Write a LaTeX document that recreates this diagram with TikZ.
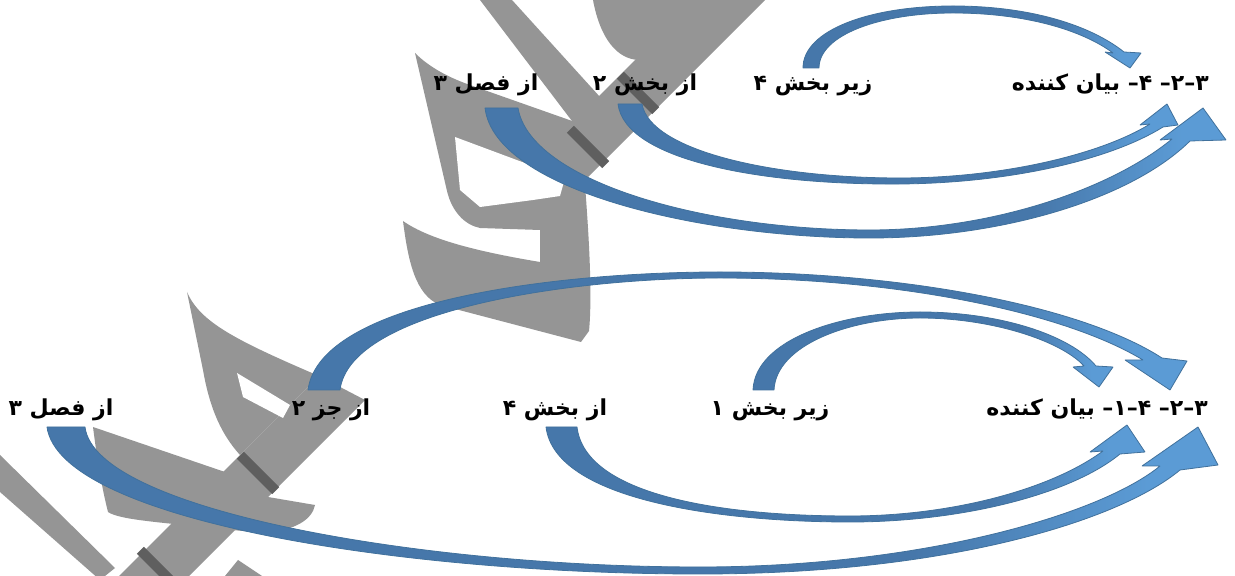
\documentclass[tikz,border=0pt]{standalone}
\usepackage{fontspec}
\usepackage{tikz}
\newfontfamily\fafont[Script=Arabic]{DejaVu Sans}
\TeXXeTstate=1
\definecolor{arrdark}{rgb}{0.275,0.467,0.667}
\definecolor{arrlight}{rgb}{0.357,0.608,0.835}
\definecolor{arredge}{rgb}{0.255,0.443,0.612}
\definecolor{wmgray}{rgb}{0.584,0.584,0.584}
\definecolor{wmdark}{rgb}{0.373,0.373,0.373}
\pgfdeclarehorizontalshading{arrowshade}{100bp}{color(0bp)=(arrdark); color(62bp)=(arrdark); color(72bp)=(arrlight); color(100bp)=(arrlight)}
\tikzset{
  lbl/.style={font=\fafont\bfseries\fontsize{22bp}{26bp}\selectfont, inner sep=0pt, anchor=base},
  curvedarrow/.style={draw=arredge, line width=0.8bp, shading=arrowshade},
}

\begin{document}
\begin{tikzpicture}[line join=bevel,]
\useasboundingbox (0bp,0bp) rectangle (1235bp,576bp);
%%
\begin{scope}
  \definecolor{fillcol}{rgb}{1.0,1.0,1.0};
  \fill [fillcol] (0.0bp,0.0bp) -- (0.0bp,576.0bp) -- (1235.0bp,576.0bp) -- (1235.0bp,0.0bp) -- cycle;
\end{scope}
%% watermark (y measured downwards here)
\begin{scope}[yshift=576bp,yscale=-1]
  % lower part of the long stroke
  \fill [wmgray] (95bp,600bp) -- (319bp,376bp) -- (365bp,400bp) -- (165bp,600bp) -- cycle;
  \fill [wmgray] (187bp,292bp) .. controls (200bp,322bp) and (235bp,340bp) .. (319bp,376bp) -- (240bp,455bp) .. controls (222bp,435bp) and (210bp,410bp) .. (203bp,370bp) -- cycle;
  \fill [white] (237bp,373bp) -- (290bp,405bp) -- (283bp,418bp) -- (243bp,397bp) -- cycle;
  \fill [wmgray] (93bp,427bp) -- (225bp,472bp) -- (268bp,497bp) -- (315bp,505bp) .. controls (312bp,520bp) and (295bp,530bp) .. (265bp,533bp) -- (210bp,528bp) .. controls (160bp,522bp) and (120bp,520bp) .. (108bp,512bp) .. controls (100bp,480bp) and (96bp,450bp) .. (93bp,427bp) -- cycle;
  \fill [wmgray] (0bp,455bp) -- (115bp,568bp) -- (100bp,580bp) -- (0bp,492bp) -- cycle;
  \fill [wmgray] (225bp,576bp) -- (238bp,560bp) -- (262bp,576bp) -- cycle;
  % upper part of the long stroke
  \fill [wmgray] (565bp,130bp) -- (695bp,0bp) -- (765bp,0bp) -- (585bp,180bp) -- cycle;
  \fill [wmgray] (593bp,0bp) .. controls (600bp,38bp) and (617bp,60bp) .. (640bp,60bp) -- (700bp,0bp) -- cycle;
  \fill [wmgray] (480bp,0bp) -- (512bp,0bp) -- (600bp,97bp) -- (575bp,125bp) -- cycle;
  % the bent letter under the top labels
  \fill [wmgray] (415bp,53bp) .. controls (430bp,68bp) and (450bp,78bp) .. (470bp,85bp) -- (575bp,122bp) -- (585bp,185bp)
    .. controls (590bp,250bp) and (592bp,300bp) .. (589bp,331bp) -- (581bp,342bp) -- (440bp,305bp)
    .. controls (415bp,295bp) and (408bp,260bp) .. (403bp,221bp) .. controls (430bp,240bp) and (480bp,252bp) .. (540bp,262bp)
    -- (540bp,230bp) -- (480bp,228bp) .. controls (465bp,225bp) and (452bp,212bp) .. (447bp,191bp) -- cycle;
  \fill [white] (455bp,137bp) -- (565bp,178bp) -- (560bp,196bp) -- (533bp,200bp) -- (480bp,207bp) -- (460bp,190bp) -- cycle;
  % darker bands across the stroke
  \fill [wmdark] (236.8bp,458.8bp) -- (272.2bp,494.2bp) -- (279.2bp,487.2bp) -- (243.8bp,451.8bp) -- cycle;
  \fill [wmdark] (136.8bp,553.8bp) -- (172.2bp,589.2bp) -- (179.2bp,582.2bp) -- (143.8bp,546.8bp) -- cycle;
  \fill [wmdark] (566.8bp,132.8bp) -- (602.2bp,168.2bp) -- (609.2bp,161.2bp) -- (573.8bp,125.8bp) -- cycle;
  \fill [wmdark] (616.8bp,78.8bp) -- (652.2bp,114.2bp) -- (659.2bp,107.2bp) -- (623.8bp,71.8bp) -- cycle;
\end{scope}
%% labels
  \node (t1) at (1209bp,485bp) [lbl,anchor=base east] {\beginR ۳–۲– ۴– بیان کننده\endR};
  \node (t2) at (813bp,485bp) [lbl] {\beginR زیر بخش ۴\endR};
  \node (t3) at (645bp,485bp) [lbl] {\beginR از بخش ۲\endR};
  \node (t4) at (486bp,485bp) [lbl] {\beginR از فصل ۳\endR};
  \node (b1) at (1208bp,160bp) [lbl,anchor=base east] {\beginR ۳–۲– ۴–۱– بیان کننده\endR};
  \node (b2) at (770bp,160bp) [lbl] {\beginR زیر بخش ۱\endR};
  \node (b3) at (555bp,160bp) [lbl] {\beginR از بخش ۴\endR};
  \node (b4) at (331bp,160bp) [lbl] {\beginR از جز ۲\endR};
  \node (b5) at (61bp,160bp) [lbl] {\beginR از فصل ۳\endR};
%% arrows, top row
  \path [curvedarrow] (803bp,508bp) .. controls (803bp,546bp) and (870bp,570bp) .. (953bp,570bp) .. controls (1030bp,570bp) and (1090bp,551bp) .. (1124bp,524bp) -- (1141bp,523bp) -- (1130bp,508bp) -- (1105bp,524bp) -- (1113bp,523bp) .. controls (1082bp,546bp) and (1025bp,563bp) .. (953bp,563bp) .. controls (880bp,563bp) and (819bp,541bp) .. (819bp,508bp) -- cycle;
  \path [curvedarrow] (618bp,472bp) .. controls (625bp,416bp) and (760bp,391bp) .. (900bp,392bp) .. controls (1010bp,393bp) and (1110bp,416bp) .. (1163bp,449bp) -- (1178bp,451bp) -- (1167bp,472bp) -- (1140bp,451bp) -- (1150bp,452bp) .. controls (1100bp,421bp) and (1000bp,398bp) .. (900bp,398bp) .. controls (770bp,398bp) and (650bp,426bp) .. (642bp,472bp) -- cycle;
  \path [curvedarrow] (485bp,468bp) .. controls (495bp,386bp) and (700bp,338bp) .. (870bp,338bp) .. controls (1000bp,338bp) and (1130bp,376bp) .. (1190bp,435bp) -- (1226bp,436bp) -- (1203bp,468bp) -- (1160bp,436bp) -- (1172bp,437bp) .. controls (1110bp,386bp) and (990bp,346bp) .. (870bp,346bp) .. controls (700bp,346bp) and (530bp,396bp) .. (518bp,468bp) -- cycle;
%% arrows, bottom row
  \path [curvedarrow] (753bp,186bp) .. controls (755bp,236bp) and (840bp,264bp) .. (920bp,264bp) .. controls (1000bp,264bp) and (1070bp,241bp) .. (1096bp,210bp) -- (1113bp,209bp) -- (1099bp,189bp) -- (1073bp,209bp) -- (1084bp,210bp) .. controls (1060bp,236bp) and (990bp,258bp) .. (920bp,258bp) .. controls (850bp,258bp) and (776bp,231bp) .. (774bp,186bp) -- cycle;
  \path [curvedarrow] (308bp,186bp) .. controls (320bp,276bp) and (560bp,304bp) .. (720bp,304bp) .. controls (900bp,304bp) and (1080bp,271bp) .. (1162bp,218bp) -- (1187bp,215bp) -- (1170bp,186bp) -- (1125bp,216bp) -- (1143bp,216bp) .. controls (1060bp,266bp) and (890bp,298bp) .. (720bp,298bp) .. controls (570bp,298bp) and (350bp,266bp) .. (340bp,186bp) -- cycle;
  \path [curvedarrow] (546bp,149bp) .. controls (555bp,76bp) and (720bp,54bp) .. (850bp,54bp) .. controls (960bp,54bp) and (1070bp,81bp) .. (1120bp,122bp) -- (1145bp,124bp) -- (1127bp,151bp) -- (1090bp,124bp) -- (1103bp,125bp) .. controls (1050bp,86bp) and (950bp,60bp) .. (850bp,60bp) .. controls (720bp,60bp) and (585bp,81bp) .. (577bp,149bp) -- cycle;
  \path [curvedarrow] (47bp,149bp) .. controls (60bp,56bp) and (400bp,2bp) .. (700bp,2bp) .. controls (950bp,2bp) and (1120bp,56bp) .. (1180bp,106bp) -- (1218bp,111bp) -- (1198bp,149bp) -- (1142bp,110bp) -- (1160bp,110bp) .. controls (1100bp,61bp) and (920bp,9bp) .. (700bp,9bp) .. controls (420bp,9bp) and (95bp,66bp) .. (85bp,149bp) -- cycle;
%
\end{tikzpicture}
\end{document}
